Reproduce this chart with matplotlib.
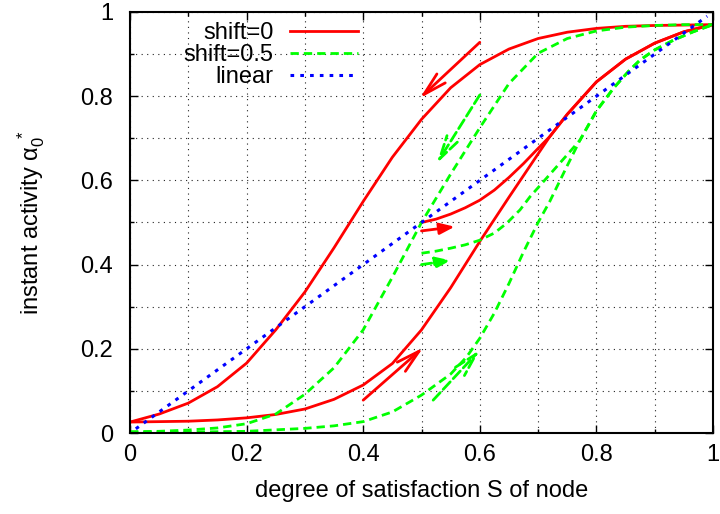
import matplotlib
matplotlib.use('Agg')
import matplotlib.pyplot as plt
from matplotlib.ticker import MultipleLocator, FuncFormatter

# ---------------- data ----------------
# shift=0 (red, solid)
s_red_up = [0, 0.05, 0.1, 0.15, 0.2, 0.25, 0.3, 0.35, 0.4, 0.45, 0.5, 0.55, 0.6,
            0.65, 0.7, 0.75, 0.8, 0.85, 0.9, 0.95, 1.0]
red_up = [0.026, 0.045, 0.071, 0.11, 0.166, 0.245, 0.335, 0.44, 0.55, 0.655, 0.745,
          0.82, 0.875, 0.912, 0.937, 0.952, 0.961, 0.966, 0.968, 0.969, 0.970]

s_red_low = [0, 0.05, 0.1, 0.15, 0.2, 0.25, 0.3, 0.35, 0.4, 0.45, 0.5, 0.55, 0.6,
             0.65, 0.7, 0.72, 0.75, 0.8, 0.85, 0.9, 0.95, 1.0]
red_low = [0.026, 0.027, 0.028, 0.031, 0.036, 0.044, 0.057, 0.08, 0.114, 0.165, 0.245,
           0.345, 0.455, 0.56, 0.663, 0.704, 0.757, 0.834, 0.888, 0.926, 0.953, 0.970]

s_red_mid = [0.5, 0.525, 0.55, 0.575, 0.6, 0.625, 0.65, 0.675, 0.7, 0.72, 0.75, 0.8,
             0.85, 0.9, 0.95, 1.0]
red_mid = [0.5, 0.508, 0.52, 0.535, 0.553, 0.577, 0.607, 0.64, 0.676, 0.704, 0.757,
           0.834, 0.888, 0.926, 0.953, 0.970]

# shift=0.5 (green, dashed)
s_green_up = [0, 0.05, 0.1, 0.15, 0.2, 0.25, 0.3, 0.35, 0.4, 0.45, 0.5, 0.55, 0.6,
              0.65, 0.7, 0.75, 0.8, 0.85, 0.9, 0.95, 1.0]
green_up = [0.003, 0.004, 0.007, 0.012, 0.022, 0.045, 0.092, 0.155, 0.245, 0.37, 0.5,
            0.615, 0.725, 0.83, 0.902, 0.937, 0.955, 0.964, 0.968, 0.970, 0.970]

s_green_low = [0, 0.1, 0.2, 0.3, 0.35, 0.4, 0.45, 0.5, 0.55, 0.577, 0.6, 0.625, 0.65,
               0.675, 0.7, 0.72, 0.75, 0.772, 0.8, 0.83, 0.857, 0.875, 0.9, 0.932,
               0.966, 1.0]
green_low = [0.002, 0.002, 0.004, 0.011, 0.017, 0.027, 0.05, 0.09, 0.14, 0.18, 0.225,
             0.285, 0.355, 0.43, 0.5, 0.55, 0.635, 0.696, 0.765, 0.82, 0.862, 0.886,
             0.91, 0.933, 0.953, 0.970]

s_green_mid = [0.5, 0.525, 0.55, 0.575, 0.6, 0.625, 0.646, 0.669, 0.686, 0.72, 0.75,
               0.772, 0.8, 0.83, 0.857, 0.875, 0.9, 0.932, 0.966, 1.0]
green_mid = [0.427, 0.432, 0.439, 0.447, 0.458, 0.475, 0.498, 0.53, 0.561, 0.614,
             0.661, 0.696, 0.765, 0.82, 0.862, 0.886, 0.91, 0.933, 0.953, 0.970]

# linear (blue, dotted)
s_linear = [0.01, 0.99]
linear = [0.01, 0.99]

# arrows: (tail, head) in data coordinates
red_arrows_big = [((0.6, 0.928), (0.497, 0.795)), ((0.4, 0.078), (0.503, 0.203))]
red_arrows_small = [((0.5, 0.48), (0.557, 0.49))]
green_arrows_big = [((0.6, 0.803), (0.526, 0.64)), ((0.52, 0.078), (0.6, 0.197))]
green_arrows_small = [((0.5, 0.40), (0.55, 0.41))]

labels = ['shift=0', 'shift=0.5', 'linear']
xlabel = 'degree of satisfaction S of node'
ylabel = r'instant activity $\mathregular{\alpha_0^{\ *}}$'

# ---------------- style ----------------
plt.rcParams['font.family'] = ['Liberation Sans', 'DejaVu Sans']
plt.rcParams['mathtext.fontset'] = 'custom'
plt.rcParams['mathtext.rm'] = 'Liberation Sans'
plt.rcParams['mathtext.it'] = 'Liberation Sans'

FS = 17
RED = '#ff0000'
GREEN = '#00ff00'
BLUE = '#0000ff'

fig = plt.figure(figsize=(7.2, 5.14), dpi=100)
ax = fig.add_axes([130 / 720, 1 - 433 / 514, 583 / 720, 421 / 514])

lw = 2.0
green_dash = (0, (3.0, 1.8))
blue_dot = (0, (1.2, 2.0))

l1, = ax.plot(s_red_up, red_up, color=RED, lw=lw, solid_joinstyle='round')
ax.plot(s_red_low, red_low, color=RED, lw=lw, solid_joinstyle='round')
ax.plot(s_red_mid, red_mid, color=RED, lw=lw, solid_joinstyle='round')

l2, = ax.plot(s_green_up, green_up, color=GREEN, lw=lw, linestyle=green_dash)
ax.plot(s_green_low, green_low, color=GREEN, lw=lw, linestyle=green_dash)
ax.plot(s_green_mid, green_mid, color=GREEN, lw=lw, linestyle=green_dash)

l3, = ax.plot(s_linear, linear, color=BLUE, lw=2.2, linestyle=blue_dot)

def draw_arrows(arrs, color, style, ls):
    for tail, head in arrs:
        ax.annotate('', xy=head, xytext=tail, xycoords='data', textcoords='data',
                    arrowprops=dict(arrowstyle=style, color=color, lw=lw,
                                    linestyle=ls, shrinkA=0, shrinkB=0,
                                    mutation_scale=20))

draw_arrows(red_arrows_big, RED, '->,head_length=0.85,head_width=0.22', '-')
draw_arrows(red_arrows_small, RED, '-|>,head_length=0.45,head_width=0.17', '-')
draw_arrows(green_arrows_big, GREEN, '->,head_length=0.85,head_width=0.22', '--')
draw_arrows(green_arrows_small, GREEN, '-|>,head_length=0.45,head_width=0.17', '--')

ax.set_xlim(0, 1)
ax.set_ylim(0, 1)
ax.xaxis.set_major_locator(MultipleLocator(0.2))
ax.yaxis.set_major_locator(MultipleLocator(0.2))
ax.xaxis.set_minor_locator(MultipleLocator(0.1))
ax.yaxis.set_minor_locator(MultipleLocator(0.1))
fmt = FuncFormatter(lambda v, p: ('%g' % round(v, 3)))
ax.xaxis.set_major_formatter(fmt)
ax.yaxis.set_major_formatter(fmt)

ax.grid(True, which='both', color='#222222', lw=0.8, linestyle=(0, (1, 4)))
ax.set_axisbelow(True)

ax.tick_params(which='both', direction='in', top=True, right=True, width=1.0,
               labelsize=FS, colors='black')
ax.tick_params(which='major', length=5.5)
ax.tick_params(which='minor', length=2.8)
ax.tick_params(axis='x', which='major', pad=8)
ax.tick_params(axis='y', which='major', pad=12)
for sp in ax.spines.values():
    sp.set_linewidth(1.5)

ax.set_xlabel(xlabel, fontsize=FS, labelpad=10)
ax.set_ylabel(ylabel, fontsize=FS, labelpad=24)

leg = ax.legend([l1, l2, l3], labels, loc='upper right',
                bbox_to_anchor=(0.3916, 0.9765), frameon=False, markerfirst=False,
                fontsize=FS, handlelength=2.9, handletextpad=0.7, borderpad=0,
                labelspacing=0.0, borderaxespad=0)

fig.savefig('out.png', dpi=100)
